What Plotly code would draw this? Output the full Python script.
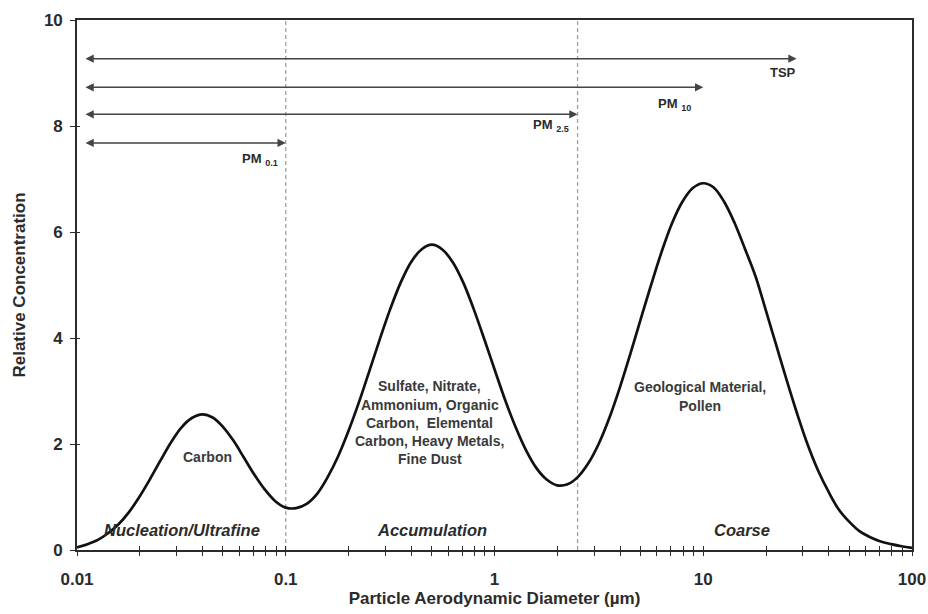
import math
import plotly.graph_objects as go

# Particle size distribution (relative concentration vs. aerodynamic diameter)
diameter_um = [
    0.01, 0.01122, 0.01259, 0.01413, 0.01585, 0.01778, 0.01995, 0.02239, 0.02512, 0.02818,
    0.03162, 0.03548, 0.03981, 0.04467, 0.05012, 0.05623, 0.0631, 0.07079, 0.07943, 0.08913,
    0.1, 0.1122, 0.1259, 0.1413, 0.1585, 0.1778, 0.1995, 0.2239, 0.2512, 0.2818,
    0.3162, 0.3548, 0.3981, 0.4467, 0.5012, 0.5623, 0.631, 0.7079, 0.7943, 0.8913,
    1.0, 1.122, 1.259, 1.413, 1.585, 1.778, 1.995, 2.239, 2.512, 2.818,
    3.162, 3.548, 3.981, 4.467, 5.012, 5.623, 6.31, 7.079, 7.943, 8.913,
    10.0, 11.22, 12.59, 14.13, 15.85, 17.78, 19.95, 22.39, 25.12, 28.18,
    31.62, 35.48, 39.81, 44.67, 50.12, 56.23, 63.1, 70.79, 79.43, 89.13,
    100.0,
]
relative_conc = [
    0.05, 0.11, 0.19, 0.32, 0.49, 0.72, 1.01, 1.34, 1.69, 2.03,
    2.31, 2.49, 2.56, 2.50, 2.32, 2.06, 1.74, 1.42, 1.14, 0.92,
    0.80, 0.79, 0.87, 1.06, 1.37, 1.76, 2.24, 2.78, 3.37, 3.97,
    4.54, 5.04, 5.43, 5.67, 5.76, 5.67, 5.43, 5.05, 4.55, 3.99,
    3.41, 2.84, 2.33, 1.89, 1.55, 1.33, 1.22, 1.24, 1.38, 1.64,
    2.01, 2.49, 3.06, 3.69, 4.35, 5.00, 5.62, 6.16, 6.57, 6.83,
    6.92, 6.84, 6.57, 6.17, 5.68, 5.17, 4.52, 3.86, 3.20, 2.57,
    1.99, 1.50, 1.10, 0.76, 0.53, 0.35, 0.24, 0.16, 0.11, 0.07,
    0.04,
]

# Mode boundaries (dashed lines)
mode_cuts = [0.1, 2.5]

# Size-fraction ranges drawn as arrows
fraction_labels = ["TSP", "PM <sub>10</sub>", "PM <sub>2.5</sub>", "PM <sub>0.1</sub>"]
fraction_start = [0.0108, 0.0108, 0.0108, 0.0108]
fraction_end = [28.0, 10.0, 2.5, 0.1]
fraction_level = [9.27, 8.73, 8.22, 7.68]

# Axis ticks
x_major = [0.01, 0.1, 1, 10, 100]
x_major_text = ["0.01", "0.1", "1", "10", "100"]
y_ticks = [0, 2, 4, 6, 8, 10]
y_tick_text = ["0", "2", "4", "6", "8", "10"]

FONT = "Liberation Sans, Arial, sans-serif"
INK = "#2b2b2b"

x_tickvals, x_ticktext = [], []
for d, lab in zip(x_major, x_major_text):
    x_tickvals.append(d)
    x_ticktext.append(lab)
    if d < 100:
        for m in range(2, 10):
            x_tickvals.append(m * d)
            x_ticktext.append("")

fig = go.Figure()

for c in mode_cuts:
    fig.add_trace(go.Scatter(x=[c, c], y=[0, 10], mode="lines",
                             line=dict(color="#a0a0a0", width=1.3, dash="4px,3px"),
                             hoverinfo="skip", showlegend=False))

fig.add_trace(go.Scatter(x=diameter_um, y=relative_conc, mode="lines",
                         line=dict(color="#111111", width=2.7, shape="spline", smoothing=1),
                         hoverinfo="skip", showlegend=False))

# helper trace so the overlaid tick axes are drawn
fig.add_trace(go.Scatter(x=[1], y=[5], xaxis="x2", yaxis="y2", mode="markers",
                         marker=dict(opacity=0), hoverinfo="skip", showlegend=False))

annotations = []
for s, e, lvl in zip(fraction_start, fraction_end, fraction_level):
    annotations.append(dict(
        x=math.log10(e), y=lvl, ax=math.log10(s), ay=lvl,
        xref="x", yref="y", axref="x", ayref="y",
        text="", showarrow=True, arrowhead=2, startarrowhead=2,
        arrowside="end+start", arrowsize=1.1, arrowwidth=1.5, arrowcolor="#444444"))

label_pos = [(24.2, 9.01), (7.3, 8.41), (1.87, 8.01), (0.075, 7.37)]
for lab, (lx, ly) in zip(fraction_labels, label_pos):
    annotations.append(dict(x=math.log10(lx), y=ly, xref="x", yref="y", text=lab,
                            showarrow=False, xanchor="center", yanchor="middle",
                            font=dict(family=FONT, size=13, color=INK, weight="bold")))

# Mode names along the bottom
for lab, lx in [("Nucleation/Ultrafine", 0.0318), ("Accumulation", 0.5), ("Coarse", 15.3)]:
    annotations.append(dict(x=math.log10(lx), y=0.37, xref="x", yref="y", text=lab,
                            showarrow=False, xanchor="center", yanchor="middle",
                            font=dict(family=FONT, size=16.5, color=INK, weight="bold",
                                      style="italic")))

# Composition of each mode
composition = [
    (0.042, [1.75], ["Carbon"]),
    (0.49, [3.09, 2.745, 2.40, 2.055, 1.71],
     ["Sulfate, Nitrate,", "Ammonium, Organic", "Carbon,  Elemental",
      "Carbon, Heavy Metals,", "Fine Dust"]),
    (9.6, [3.07, 2.71], ["Geological Material,", "Pollen"]),
]
for cx, ys, lines in composition:
    for yy, t in zip(ys, lines):
        annotations.append(dict(x=math.log10(cx), y=yy, xref="x", yref="y", text=t,
                                showarrow=False, xanchor="center", yanchor="middle",
                                font=dict(family=FONT, size=14, color="#3a3a3a",
                                          weight="bold")))

axis_common = dict(showgrid=False, zeroline=False, automargin=False)

fig.update_layout(
    width=928, height=614, autosize=False,
    margin=dict(l=77, r=16, t=20, b=64, autoexpand=False),
    paper_bgcolor="white", plot_bgcolor="white",
    showlegend=False,
    annotations=annotations,
    xaxis=dict(type="log", range=[-2, 2], tickvals=x_tickvals, ticktext=x_ticktext,
               ticks="outside", ticklen=4, tickwidth=1.2, tickcolor=INK,
               ticklabelstandoff=9,
               showline=True, linecolor=INK, linewidth=1.6, mirror=True,
               tickfont=dict(family=FONT, size=17, color=INK, weight="bold"),
               title=dict(text="Particle Aerodynamic Diameter (µm)", standoff=4,
                          font=dict(family=FONT, size=17, color=INK, weight="bold")),
               **axis_common),
    yaxis=dict(range=[0, 10], tickvals=y_ticks, ticktext=y_tick_text,
               ticks="outside", ticklen=5, tickwidth=1.2, tickcolor=INK,
               ticklabelstandoff=4,
               showline=True, linecolor=INK, linewidth=1.6, mirror=True,
               tickfont=dict(family=FONT, size=17, color=INK, weight="bold"),
               title=dict(text="Relative Concentration", standoff=14,
                          font=dict(family=FONT, size=17, color=INK, weight="bold")),
               **axis_common),
    xaxis2=dict(type="log", range=[-2, 2], overlaying="x", anchor="y2",
                tickvals=x_tickvals, ticks="inside", ticklen=4, tickwidth=1.2,
                tickcolor=INK, showticklabels=False, showline=False, **axis_common),
    yaxis2=dict(range=[0, 10], overlaying="y", anchor="x2", side="left",
                tickvals=y_ticks, ticks="inside", ticklen=3, tickwidth=1.2,
                tickcolor=INK, showticklabels=False, showline=False, **axis_common),
)

fig.write_html("out.html")
